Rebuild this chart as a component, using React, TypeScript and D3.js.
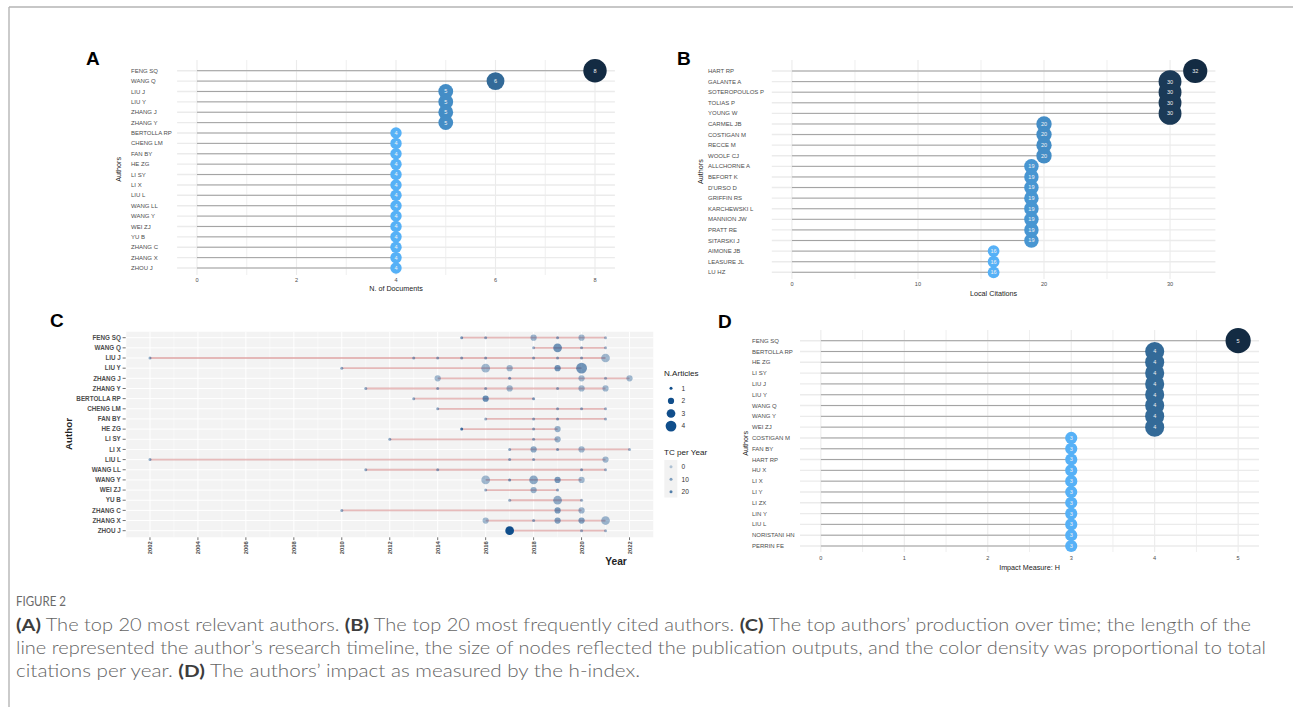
import React from "react";
import * as d3 from "d3";

// ---------- Panel A data ----------
const authorsA = ["FENG SQ", "WANG Q", "LIU J", "LIU Y", "ZHANG J", "ZHANG Y", "BERTOLLA RP", "CHENG LM", "FAN BY", "HE ZG", "LI SY", "LI X", "LIU L", "WANG LL", "WANG Y", "WEI ZJ", "YU B", "ZHANG C", "ZHANG X", "ZHOU J"];
const docsA = [8, 6, 5, 5, 5, 5, 4, 4, 4, 4, 4, 4, 4, 4, 4, 4, 4, 4, 4, 4];
const ticksA = [0, 2, 4, 6, 8];
const minorA = [1, 3, 5, 7];

// ---------- Panel B data ----------
const authorsB = ["HART RP", "GALANTE A", "SOTEROPOULOS P", "TOLIAS P", "YOUNG W", "CARMEL JB", "COSTIGAN M", "RECCE M", "WOOLF CJ", "ALLCHORNE A", "BEFORT K", "D'URSO D", "GRIFFIN RS", "KARCHEWSKI L", "MANNION JW", "PRATT RE", "SITARSKI J", "AIMONE JB", "LEASURE JL", "LU HZ"];
const citesB = [32, 30, 30, 30, 30, 20, 20, 20, 20, 19, 19, 19, 19, 19, 19, 19, 19, 16, 16, 16];
const ticksB = [0, 10, 20, 30];
const minorB = [5, 15, 25];

// ---------- Panel D data ----------
const authorsD = ["FENG SQ", "BERTOLLA RP", "HE ZG", "LI SY", "LIU J", "LIU Y", "WANG Q", "WANG Y", "WEI ZJ", "COSTIGAN M", "FAN BY", "HART RP", "HU X", "LI X", "LI Y", "LI ZX", "LIN Y", "LIU L", "NORISTANI HN", "PERRIN FE"];
const hIndexD = [5, 4, 4, 4, 4, 4, 4, 4, 4, 3, 3, 3, 3, 3, 3, 3, 3, 3, 3, 3];
const ticksD = [0, 1, 2, 3, 4, 5];
const minorD = [0.5, 1.5, 2.5, 3.5, 4.5];

// ---------- Panel C data ----------
const authorsC = ["FENG SQ", "WANG Q", "LIU J", "LIU Y", "ZHANG J", "ZHANG Y", "BERTOLLA RP", "CHENG LM", "FAN BY", "HE ZG", "LI SY", "LI X", "LIU L", "WANG LL", "WANG Y", "WEI ZJ", "YU B", "ZHANG C", "ZHANG X", "ZHOU J"];
const yearsC: number[][] = [
  [2015, 2016, 2018, 2019, 2020, 2021],
  [2018, 2019, 2020, 2021],
  [2002, 2013, 2014, 2015, 2016, 2018, 2019, 2020, 2021],
  [2010, 2016, 2017, 2019, 2020],
  [2014, 2017, 2020, 2021, 2022],
  [2011, 2014, 2016, 2017, 2019, 2020, 2021],
  [2013, 2016, 2018],
  [2014, 2019, 2020, 2021],
  [2016, 2018, 2019, 2021],
  [2015, 2018, 2019],
  [2012, 2018, 2019],
  [2017, 2018, 2019, 2020, 2022],
  [2002, 2017, 2018, 2021],
  [2011, 2014, 2020, 2021],
  [2016, 2017, 2018, 2019, 2020],
  [2016, 2018, 2019],
  [2017, 2019, 2020],
  [2010, 2019, 2020],
  [2016, 2018, 2019, 2020, 2021],
  [2017, 2020, 2021],
];
const articlesC: number[][] = [
  [1, 1, 2, 1, 2, 1],
  [1, 3, 1, 1],
  [1, 1, 1, 1, 1, 1, 1, 1, 3],
  [1, 3, 2, 2, 4],
  [2, 1, 2, 1, 2],
  [1, 1, 1, 2, 1, 2, 2],
  [1, 2, 1],
  [1, 1, 1, 1],
  [1, 1, 1, 1],
  [1, 1, 2],
  [1, 1, 2],
  [1, 2, 1, 2, 1],
  [1, 1, 1, 2],
  [1, 1, 1, 1],
  [3, 1, 3, 2, 2],
  [1, 2, 1],
  [1, 3, 1],
  [1, 2, 2],
  [2, 1, 2, 2, 3],
  [3, 1, 1],
];
const tcC: number[][] = [
  [12, 8, 5, 9, 4, 4],
  [5, 14, 7, 4],
  [8, 8, 8, 8, 8, 8, 8, 8, 4],
  [8, 4, 4, 14, 14],
  [4, 12, 4, 6, 4],
  [8, 8, 8, 4, 8, 4, 4],
  [8, 16, 12],
  [8, 8, 8, 5],
  [6, 8, 10, 5],
  [25, 8, 6],
  [8, 8, 6],
  [8, 8, 10, 4, 5],
  [8, 8, 8, 4],
  [8, 8, 10, 5],
  [4, 12, 8, 12, 4],
  [6, 6, 8],
  [6, 7, 6],
  [8, 12, 5],
  [4, 8, 10, 10, 5],
  [35, 6, 5],
];
const yearTicksC = [2002, 2004, 2006, 2008, 2010, 2012, 2014, 2016, 2018, 2020, 2022];
const articleLegend = [1, 2, 3, 4];
const tcLegend = [0, 10, 20];

const SANS = "'Liberation Sans', Arial, Helvetica, sans-serif";

type LolliProps = {
  letter: string; letterX: number; letterY: number;
  labels: string[]; values: number[];
  domain: [number, number]; ticks: number[]; minor: number[];
  left: number; right: number; top: number; bottom: number;
  gridTop: number; gridBottom: number; labelX: number;
  tickY: number; xTitle: string; titleY: number; yTitleX: number;
  rRange: [number, number];
};

function Lollipop(p: LolliProps) {
  const x = d3.scaleLinear().domain(p.domain).range([p.left, p.right]);
  const y = d3.scalePoint<string>().domain(p.labels).range([p.top, p.bottom]);
  const ext = d3.extent(p.values) as [number, number];
  const r = d3.scaleSqrt().domain(ext).range(p.rRange);
  const col = d3.scaleLinear<string>().domain(ext).range(["#56B1F7", "#132B43"]).interpolate(d3.interpolateLab);
  const midY = (p.top + p.bottom) / 2;
  return (
    <g fontFamily={SANS}>
      <text x={p.letterX} y={p.letterY} fontSize={19} fontWeight={700} fill="#000">{p.letter}</text>
      {p.minor.map((t) => (
        <line key={"mi" + t} x1={x(t)} x2={x(t)} y1={p.gridTop} y2={p.gridBottom} stroke="#efefef" strokeWidth={1} />
      ))}
      {p.ticks.map((t) => (
        <line key={"ma" + t} x1={x(t)} x2={x(t)} y1={p.gridTop} y2={p.gridBottom} stroke="#ebebeb" strokeWidth={1.1} />
      ))}
      {p.labels.map((l) => (
        <line key={"h" + l} x1={p.left} x2={p.right} y1={y(l)} y2={y(l)} stroke="#ebebeb" strokeWidth={1.4} />
      ))}
      {p.labels.map((l, i) => (
        <line key={"s" + l} x1={x(0)} x2={x(p.values[i])} y1={y(l)} y2={y(l)} stroke="#999" strokeWidth={0.9} />
      ))}
      {p.labels.map((l, i) => (
        <circle key={"c" + l} cx={x(p.values[i])} cy={y(l)} r={r(p.values[i])} fill={col(p.values[i])} />
      ))}
      {p.labels.map((l, i) => (
        <text key={"v" + l} x={x(p.values[i])} y={y(l)} dy="0.35em" textAnchor="middle" fontSize={5.5} fill="#f2f2f2">{p.values[i]}</text>
      ))}
      {p.labels.map((l) => (
        <text key={"l" + l} x={p.labelX} y={y(l)} dy="0.35em" fontSize={6} fill="#4d4d4d">{l}</text>
      ))}
      {p.ticks.map((t) => (
        <text key={"t" + t} x={x(t)} y={p.tickY} textAnchor="middle" fontSize={5.6} fill="#4d4d4d">{t}</text>
      ))}
      <text x={(p.left + p.right) / 2} y={p.titleY} textAnchor="middle" fontSize={7.2} fill="#222">{p.xTitle}</text>
      <text transform={`translate(${p.yTitleX},${midY}) rotate(-90)`} textAnchor="middle" dy="0.35em" fontSize={7.2} fill="#222">Authors</text>
    </g>
  );
}

function ProductionPanel() {
  const left = 126, right = 653.5, top = 331.7, bottom = 537.3;
  const x = d3.scaleLinear().domain([2001, 2023]).range([left, right]);
  const y = d3.scalePoint<string>().domain(authorsC).range([337.7, 530.7]);
  const size = d3.scaleSqrt().domain([1, 4]).range([1.5, 5.4]);
  const alpha = d3.scaleLinear().domain([0, 35]).range([0.3, 1]).clamp(true);
  const minorYears = d3.range(2001, 2024, 2);
  const blue = "#104E8B";
  return (
    <g fontFamily={SANS}>
      <text x={50} y={327} fontSize={19} fontWeight={700} fill="#000">C</text>
      <rect x={left} y={top} width={right - left} height={bottom - top} fill="#f3f3f3" />
      {minorYears.map((yr) => (
        <line key={"mn" + yr} x1={x(yr)} x2={x(yr)} y1={top} y2={bottom} stroke="#fff" strokeWidth={0.5} />
      ))}
      {yearTicksC.map((yr) => (
        <line key={"mj" + yr} x1={x(yr)} x2={x(yr)} y1={top} y2={bottom} stroke="#fff" strokeWidth={1} />
      ))}
      {authorsC.map((a) => (
        <line key={"hg" + a} x1={left} x2={right} y1={y(a)} y2={y(a)} stroke="#fff" strokeWidth={1} />
      ))}
      {authorsC.map((a, i) => {
        const ys = yearsC[i];
        return (
          <line key={"ln" + a} x1={x(d3.min(ys) as number)} x2={x(d3.max(ys) as number)} y1={y(a)} y2={y(a)}
            stroke="#b22222" strokeOpacity={0.3} strokeWidth={1.8} />
        );
      })}
      {authorsC.map((a, i) =>
        yearsC[i].map((yr, j) => (
          <circle key={a + yr} cx={x(yr)} cy={y(a)} r={size(articlesC[i][j])} fill={blue} fillOpacity={alpha(tcC[i][j])} />
        ))
      )}
      {authorsC.map((a) => (
        <g key={"yl" + a}>
          <line x1={122.6} x2={125.7} y1={y(a)} y2={y(a)} stroke="#333" strokeWidth={0.7} />
          <text x={120.8} y={y(a)} dy="0.35em" textAnchor="end" fontSize={6.3} fontWeight={700} fill="#4d4d4d">{a}</text>
        </g>
      ))}
      {yearTicksC.map((yr) => (
        <g key={"xt" + yr}>
          <line x1={x(yr)} x2={x(yr)} y1={bottom} y2={bottom + 2.8} stroke="#333" strokeWidth={0.7} />
          <text transform={`translate(${x(yr)},${bottom + 4}) rotate(-90)`} dy="0.35em" textAnchor="end" fontSize={5.8} fontWeight={700} fill="#4d4d4d">{yr}</text>
        </g>
      ))}
      <text transform={`translate(69,434) rotate(-90)`} textAnchor="middle" dy="0.35em" fontSize={9.8} fontWeight={700} fill="#222">Author</text>
      <text x={616} y={565} textAnchor="middle" fontSize={10.2} fontWeight={700} fill="#222">Year</text>

      <text x={664} y={376} fontSize={8.1} fill="#222">N.Articles</text>
      {articleLegend.map((n, i) => (
        <g key={"la" + n}>
          <circle cx={671} cy={388.3 + i * 12.6} r={size(n)} fill={blue} />
          <text x={681.5} y={388.3 + i * 12.6} dy="0.35em" fontSize={6.6} fill="#333">{n}</text>
        </g>
      ))}
      <text x={664} y={454.5} fontSize={8.1} fill="#222">TC per Year</text>
      <rect x={664.3} y={460} width={13} height={37.5} fill="#f2f2f2" />
      {tcLegend.map((t, i) => (
        <g key={"lt" + t}>
          <circle cx={671} cy={466.7 + i * 12.5} r={1.5} fill={blue} fillOpacity={alpha(t)} />
          <text x={681.5} y={466.7 + i * 12.5} dy="0.35em" fontSize={6.6} fill="#333">{t}</text>
        </g>
      ))}
    </g>
  );
}

function Caption() {
  const cf = "Lato, 'Open Sans', sans-serif";
  const b = (s: string) => <tspan fontWeight={700} fill="#3d3d3d">{s}</tspan>;
  return (
    <g fontFamily={cf} fill="#646464" fontWeight={300}>
      <text x={16} y={605.5} fontSize={13} textLength={50} lengthAdjust="spacingAndGlyphs" fill="#6a6a6a" fontWeight={400}>FIGURE 2</text>
      <text x={16} y={631} fontSize={17} textLength={1235} lengthAdjust="spacingAndGlyphs">
        {b("(A)")} The top 20 most relevant authors. {b("(B)")} The top 20 most frequently cited authors. {b("(C)")} The top authors’ production over time; the length of the
      </text>
      <text x={16} y={654} fontSize={17} textLength={1250} lengthAdjust="spacingAndGlyphs">
        line represented the author’s research timeline, the size of nodes reflected the publication outputs, and the color density was proportional to total
      </text>
      <text x={16} y={677} fontSize={17} textLength={624} lengthAdjust="spacingAndGlyphs">
        citations per year. {b("(D)")} The authors’ impact as measured by the h-index.
      </text>
    </g>
  );
}

export default function App() {
  return (
    <svg width={1293} height={707} style={{ position: "absolute", left: 0, top: 0, background: "#fff" }}>
      <rect x={0} y={0} width={1293} height={707} fill="#fff" />
      <line x1={9} x2={1293} y1={7} y2={7} stroke="#b5b5b5" strokeWidth={1.4} />
      <line x1={9} x2={9} y1={7} y2={707} stroke="#b5b5b5" strokeWidth={1.4} />
      <Lollipop letter="A" letterX={86} letterY={65} labels={authorsA} values={docsA} domain={[-0.4, 8.4]}
        ticks={ticksA} minor={minorA} left={177.1} right={614.9} top={70.7} bottom={268} gridTop={60} gridBottom={275}
        labelX={131} tickY={282} xTitle="N. of Documents" titleY={290.8} yTitleX={118} rRange={[5.7, 11.7]} />
      <Lollipop letter="B" letterX={677} letterY={65} labels={authorsB} values={citesB} domain={[-1.6, 33.6]}
        ticks={ticksB} minor={minorB} left={771.8} right={1215.4} top={71} bottom={272.3} gridTop={60} gridBottom={279}
        labelX={708} tickY={286.3} xTitle="Local Citations" titleY={295.5} yTitleX={700} rRange={[5.9, 12.1]} />
      <Lollipop letter="D" letterX={718} letterY={328} labels={authorsD} values={hIndexD} domain={[-0.25, 5.25]}
        ticks={ticksD} minor={minorD} left={800} right={1259} top={340.7} bottom={546} gridTop={330} gridBottom={552}
        labelX={752} tickY={560.3} xTitle="Impact Measure: H" titleY={569.8} yTitleX={745} rRange={[6.1, 12.6]} />
      <ProductionPanel />
      <Caption />
    </svg>
  );
}
